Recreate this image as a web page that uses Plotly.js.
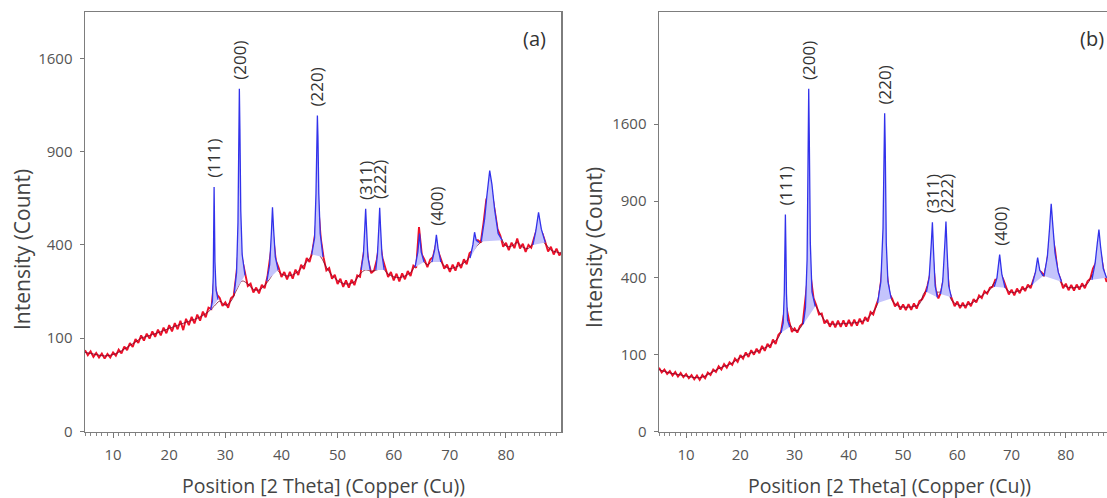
<!DOCTYPE html>
<html><head><meta charset="utf-8">
<script src="https://cdn.plot.ly/plotly-3.0.1.min.js"></script>
<style>html,body{margin:0;padding:0;background:#fff;overflow:hidden}#chart{width:1120px;height:498px}</style>
</head><body><div id="chart"></div>
<script>
// ---- data (2θ in degrees, intensity in counts) ----
const obsStart = 5, obsStep = 0.5;          // observed scan grid
const bgStart = 5, bgStep = 1;              // smooth background grid
const obsA = [76,67,74,64,71,63,70,61,69,63,
72,66,77,70,83,76,90,82,98,90,106,95,110,99,115,103,119,106,124,111,
130,115,135,120,141,118,146,130,151,134,157,141,165,150,176,172,260,215,205,181,
192,176,204,212,290,420,340,288,243,251,222,238,219,247,236,275,360,440,335,308,
274,292,266,293,268,301,281,319,303,346,330,372,450,600,430,348,298,307,268,282,
250,268,240,262,238,265,246,280,275,340,420,330,288,298,340,420,345,308,274,292,
262,286,259,287,266,296,278,316,308,480,360,338,310,340,350,400,370,336,304,320,
293,320,297,329,307,341,321,365,375,420,420,410,500,620,650,650,560,470,440,392,
409,378,410,386,428,385,405,370,400,388,430,470,470,450,412,372,392,360,384,356,
372];
const obsB = [69,59,65,56,62,53,60,51,58,50,
56,48,54,46,53,45,54,48,59,54,65,60,72,65,77,69,81,75,90,82,
99,90,106,94,112,100,116,104,124,110,130,119,143,130,158,168,230,260,205,168,
180,166,188,198,300,420,400,300,270,232,236,198,211,186,206,184,208,185,209,186,
211,188,212,190,216,195,222,205,242,232,268,300,400,600,420,320,298,265,280,252,
274,250,275,251,278,256,288,296,320,360,420,500,340,300,330,400,500,330,298,266,
286,258,281,258,286,266,297,282,314,302,334,322,350,355,390,390,420,390,352,318,
341,314,346,324,356,334,366,348,388,430,440,430,410,480,600,650,560,430,392,348,
370,338,364,336,366,341,372,348,382,395,450,480,550,520,432,380,398,366,392,362,
382];
const bgA = [72,70,68,66,66,68,72,78,85,92,100,104,108,112,117,122,127,132,137,142,
147,155,165,180,195,183,195,230,260,250,232,230,245,270,300,285,278,282,295,318,
344,370,350,310,280,262,252,250,258,285,300,295,300,305,285,275,272,278,290,320,
335,320,335,340,315,305,310,320,335,370,400,420,430,430,430,395,395,410,390,385,
410,420,405,378,370,365];
const bgB = [65,61,58,56,54,52,50,49,50,55,61,67,72,76,84,93,99,105,108,116,
122,134,149,190,195,172,180,230,300,264,225,200,195,196,197,199,200,204,210,230,
260,320,350,290,268,262,262,265,275,330,340,330,330,340,290,273,268,273,284,302,
322,340,380,380,345,327,332,342,352,375,420,410,430,460,380,356,350,352,358,370,
420,430,420,385,378,375];
// fitted peak profiles (null separates peaks)
const peakAx = [27.4,27.7,27.85,27.95,28.0,28.05,28.15,28.35,28.7,null,
31.6,32.0,32.25,32.4,32.5,32.6,32.75,33.0,33.5,null,
37.4,37.9,38.2,38.4,38.6,38.9,39.4,null,
45.4,45.9,46.15,46.3,46.4,46.5,46.65,46.9,47.4,null,
54.2,54.6,54.85,55.0,55.15,55.4,55.8,null,
56.8,57.1,57.35,57.5,57.65,57.9,58.3,null,
63.8,64.3,64.6,64.9,65.4,null,
66.8,67.3,67.6,67.9,68.4,null,
73.6,74.1,74.4,74.7,75.2,null,
75.6,76.2,76.6,77.1,77.5,78.0,78.6,79.3,null,
84.8,85.3,85.8,86.3,87.0];
const peakAy = [170,195,280,500,686,560,330,230,200,null,
220,290,500,1000,1349,1050,560,360,280,null,
260,320,450,577,470,350,300,null,
360,430,650,1000,1147,1000,650,450,350,null,
300,360,480,570,480,350,300,null,
300,360,480,575,480,360,300,null,
310,370,450,370,330,null,
330,380,444,385,330,null,
345,400,456,420,410,null,
415,520,640,782,700,560,450,420,null,
400,460,552,470,410];
const peakBx = [27.5,27.9,28.1,28.2,28.3,28.4,28.5,28.7,29.1,null,
31.6,32.0,32.3,32.5,32.6,32.7,32.9,33.2,33.8,null,
45.3,45.9,46.3,46.5,46.6,46.7,46.9,47.2,47.8,null,
54.3,54.8,55.2,55.4,55.6,55.9,56.3,null,
56.9,57.3,57.7,57.9,58.1,58.4,58.9,null,
66.8,67.3,67.8,68.2,68.8,null,
73.8,74.4,74.8,75.2,75.8,null,
76.0,76.6,77.0,77.3,77.6,78.0,78.6,79.2,null,
84.8,85.4,85.8,86.1,86.4,86.9,87.5];
const peakBy = [165,200,330,550,797,560,320,210,185,null,
195,260,500,1400,1990,1500,600,330,265,null,
280,380,700,1400,1716,1400,600,380,300,null,
330,400,600,741,560,360,305,null,
320,380,600,747,560,360,305,null,
355,400,530,420,350,null,
365,430,512,440,410,null,
410,520,700,879,720,540,430,380,null,
390,480,600,690,580,450,400];
const hklLabels = ['(111)','(200)','(220)','(311)','(222)','(400)'];
const hklPosA = [28.0,32.5,46.4,55.0,57.5,67.6];
const hklPeakA = [686,1349,1147,570,575,444];
const hklPosB = [28.3,32.6,46.6,55.4,57.9,67.8];
const hklPeakB = [797,1990,1716,741,747,530];
const yTickCounts = [0,100,400,900,1600];
const xTickVals = [10,20,30,40,50,60,70,80];
const panelTags = ['(a)','(b)'];
const xTitle = 'Position [2 Theta] (Copper (Cu))';
const yTitle = 'Intensity (Count)';

// ---- drawing ----
const W = 1120, H = 498;
const FONT = 'Open Sans, Noto Sans, sans-serif';
const sq = v => (v == null ? null : Math.sqrt(v));
const grid = (start, step, n) => Array.from({length:n}, (_, i) => start + i*step);

function traces(obs, bg, px, py, xa, ya) {
  return [
    {x: grid(obsStart, obsStep, obs.length), y: obs.map(sq), mode:'lines', xaxis:xa, yaxis:ya,
     line:{color:'rgb(238,16,40)', width:1.9}, hoverinfo:'skip'},
    {x: grid(bgStart, bgStep, bg.length), y: bg.map(sq), mode:'lines', xaxis:xa, yaxis:ya,
     line:{color:'rgb(120,8,45)', width:0.8, shape:'spline'}, hoverinfo:'skip'},
    {x: px, y: py.map(sq), mode:'lines', xaxis:xa, yaxis:ya, connectgaps:false,
     fill:'toself', fillcolor:'rgb(196,196,252)',
     line:{color:'rgb(50,50,235)', width:1.3}, hoverinfo:'skip'}
  ];
}
const data = [...traces(obsA, bgA, peakAx, peakAy, 'x', 'y'),
              ...traces(obsB, bgB, peakBx, peakBy, 'x2', 'y2')];

const frame = {showline:true, linecolor:'#7d7d7d', linewidth:1.5, mirror:true,
  showgrid:false, zeroline:false, ticks:'outside', tickcolor:'#777', tickwidth:1,
  tickfont:{family:FONT, size:15, color:'#555'}};
function xax(d0, d1, anchor) {
  return Object.assign({}, frame, {domain:[d0/W, d1/W], range:[5, 89.8], anchor,
    tickmode:'array', tickvals:xTickVals, ticklen:5, ticklabelstandoff:4,
    minor:{dtick:1, tick0:0, ticks:'outside', ticklen:2.5, tickcolor:'#888', showgrid:false}});
}
function yax(top, anchor) {
  return Object.assign({}, frame, {domain:[1-431.5/H, 1-12/H], range:[0, top], anchor,
    tickmode:'array', tickvals:yTickCounts.map(Math.sqrt), ticktext:yTickCounts.map(String),
    ticklen:4, ticklabelstandoff:4});
}
const ann = [];
function hkl(pos, peak, xr, yr) {
  hklLabels.forEach((t, i) => ann.push({x:pos[i], y:Math.sqrt(peak[i]), xref:xr, yref:yr,
    text:t, showarrow:false, textangle:-90, xanchor:'center', yanchor:'bottom', yshift:7,
    font:{family:FONT, size:17, color:'#333'}}));
}
hkl(hklPosA, hklPeakA, 'x', 'y');
hkl(hklPosB, hklPeakB, 'x2', 'y2');
const P = (x, y) => ({x:x/W, y:1-y/H});
[[panelTags[0], 534, 39], [panelTags[1], 1092, 39]].forEach(([t, x, y]) => ann.push(Object.assign(
  {xref:'paper', yref:'paper', text:t, showarrow:false, xanchor:'center', yanchor:'middle',
   font:{family:FONT, size:20, color:'#333'}}, P(x, y))));
[[323, 485], [889, 485]].forEach(([x, y]) => ann.push(Object.assign(
  {xref:'paper', yref:'paper', text:xTitle, showarrow:false, xanchor:'center', yanchor:'middle',
   font:{family:FONT, size:19.5, color:'#444'}}, P(x, y))));
[[22, 250], [594, 248]].forEach(([x, y]) => ann.push(Object.assign(
  {xref:'paper', yref:'paper', text:yTitle, showarrow:false, textangle:-90, xanchor:'center', yanchor:'middle',
   font:{family:FONT, size:21, color:'#444'}}, P(x, y))));

const layout = {
  width:W, height:H, margin:{l:0, r:0, t:0, b:0}, showlegend:false,
  paper_bgcolor:'#fff', plot_bgcolor:'#fff',
  xaxis: xax(85, 561, 'y'), yaxis: yax(44.96, 'x'),
  xaxis2: xax(659, 1119, 'y2'), yaxis2: yax(54.6, 'x2'),
  annotations: ann
};
Plotly.newPlot('chart', data, layout, {staticPlot:true, displayModeBar:false});
</script></body></html>
